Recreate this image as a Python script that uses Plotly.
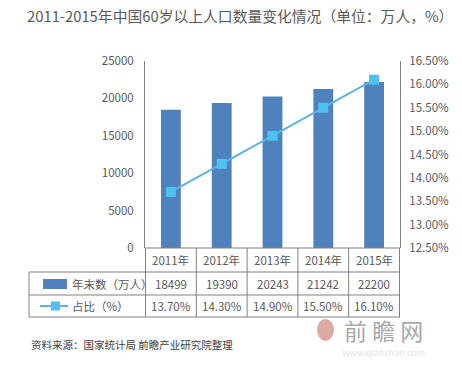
import plotly.graph_objects as go

years = ["2011年", "2012年", "2013年", "2014年", "2015年"]
year_end = [18499, 19390, 20243, 21242, 22200]
share = [13.70, 14.30, 14.90, 15.50, 16.10]
share_labels = ["13.70%", "14.30%", "14.90%", "15.50%", "16.10%"]

title_text = "2011-2015年中国60岁以上人口数量变化情况（单位：万人，%）"
bar_name = "年末数（万人）"
line_name = "占比（%）"
source_text = "资料来源：国家统计局 前瞻产业研究院整理"

FONT = "Noto Sans CJK SC"
TXT = "#595959"
GRID = "#808080"
BAR = "#4f81bd"
LINE = "#5ab4e2"
MARK = "#4fc1ee"

W, H = 462, 366
L, R, T, B = 145, 62, 61, 118
PW, PH = W - L - R, H - T - B

# helpers take window pixel coordinates
def px(X):
    return (X - L) / PW

def py(Y):
    return (H - B - Y) / PH

fig = go.Figure()
fig.add_trace(go.Bar(x=years, y=year_end, marker=dict(color=BAR, line=dict(width=0)),
                     width=0.39, showlegend=False))
fig.add_trace(go.Scatter(x=years, y=share, yaxis="y2", mode="lines+markers",
                         line=dict(color=LINE, width=2),
                         marker=dict(symbol="square", size=10, color=MARK),
                         showlegend=False))

shapes = []
ann = []
row_lines = [248, 272, 295, 317]
for i, Y in enumerate(row_lines):
    x0 = px(145) if i == 0 else px(29)
    shapes.append(dict(type="line", xref="paper", yref="paper", x0=x0, x1=1,
                       y0=py(Y), y1=py(Y), line=dict(color=GRID, width=1)))
shapes.append(dict(type="line", xref="paper", yref="paper", x0=px(29), x1=px(29),
                   y0=py(272), y1=py(317), line=dict(color=GRID, width=1)))
for k in range(len(years) + 1):
    shapes.append(dict(type="line", xref="x", yref="paper", x0=k - 0.5, x1=k - 0.5,
                       y0=py(248), y1=py(317), line=dict(color=GRID, width=1)))
shapes.append(dict(type="rect", xref="paper", yref="paper", x0=px(43), x1=px(67),
                   y0=py(289), y1=py(279), fillcolor=BAR, line=dict(width=0)))
shapes.append(dict(type="line", xref="paper", yref="paper", x0=px(40), x1=px(68),
                   y0=py(306), y1=py(306), line=dict(color=LINE, width=2)))
shapes.append(dict(type="rect", xref="paper", yref="paper", x0=px(51), x1=px(60),
                   y0=py(310.5), y1=py(301.5), fillcolor=MARK, line=dict(width=0)))
# watermark logo (simple shape)
shapes.append(dict(type="circle", xref="paper", yref="paper", x0=px(317), x1=px(334),
                   y0=py(341), y1=py(319), fillcolor="#dcaaa2", line=dict(width=0)))

tf = dict(family=FONT, size=11.5, color=TXT)
def add(x, xref, Y, text, font, xanchor="center"):
    ann.append(dict(x=x, xref=xref, y=py(Y), yref="paper", text=text, showarrow=False,
                    xanchor=xanchor, yanchor="middle", font=font))

for i, yr in enumerate(years):
    add(yr, "x", 260, yr, tf)
    add(yr, "x", 284, str(year_end[i]), tf)
    add(yr, "x", 306, share_labels[i], tf)
add(px(70), "paper", 284, bar_name, tf, "left")
add(px(70), "paper", 306, line_name, tf, "left")
add(px(29), "paper", 344, source_text, dict(family=FONT, size=10.5, color="#404040"), "left")
add(px(342), "paper", 330, "前 瞻 网", dict(family=FONT, size=23, color="#a8a8a8"), "left")
add(px(340), "paper", 352, "www.qianzhan.com", dict(family=FONT, size=9, color="#e3e3e3"), "left")

fig.update_layout(
    width=W, height=H,
    margin=dict(l=L, r=R, t=T, b=B, pad=0),
    paper_bgcolor="white", plot_bgcolor="white",
    title=dict(text=title_text, x=27 / W, xanchor="left", y=1 - 17 / H,
               yanchor="middle", font=dict(family=FONT, size=14.8, color="#595959")),
    font=dict(family=FONT, color=TXT),
    hovermode=False,
    xaxis=dict(showticklabels=False, showgrid=False, zeroline=False, showline=False, ticks=""),
    yaxis=dict(range=[0, 25000], dtick=5000, tickformat="d", showgrid=False, zeroline=False,
               showline=True, linecolor=GRID, linewidth=1, ticks="",
               tickfont=dict(family=FONT, size=11.5, color=TXT), ticklabelstandoff=8),
    yaxis2=dict(range=[12.5, 16.5], dtick=0.5, overlaying="y", side="right",
                tickformat=".2f", ticksuffix="%", showgrid=False, zeroline=False,
                showline=True, linecolor=GRID, linewidth=1, ticks="",
                tickfont=dict(family=FONT, size=11.5, color=TXT), ticklabelstandoff=6),
    shapes=shapes, annotations=ann,
)

fig.write_html("out.html", config={"displayModeBar": False},
               post_script="document.body.style.margin='0';document.body.style.overflow='hidden';")
